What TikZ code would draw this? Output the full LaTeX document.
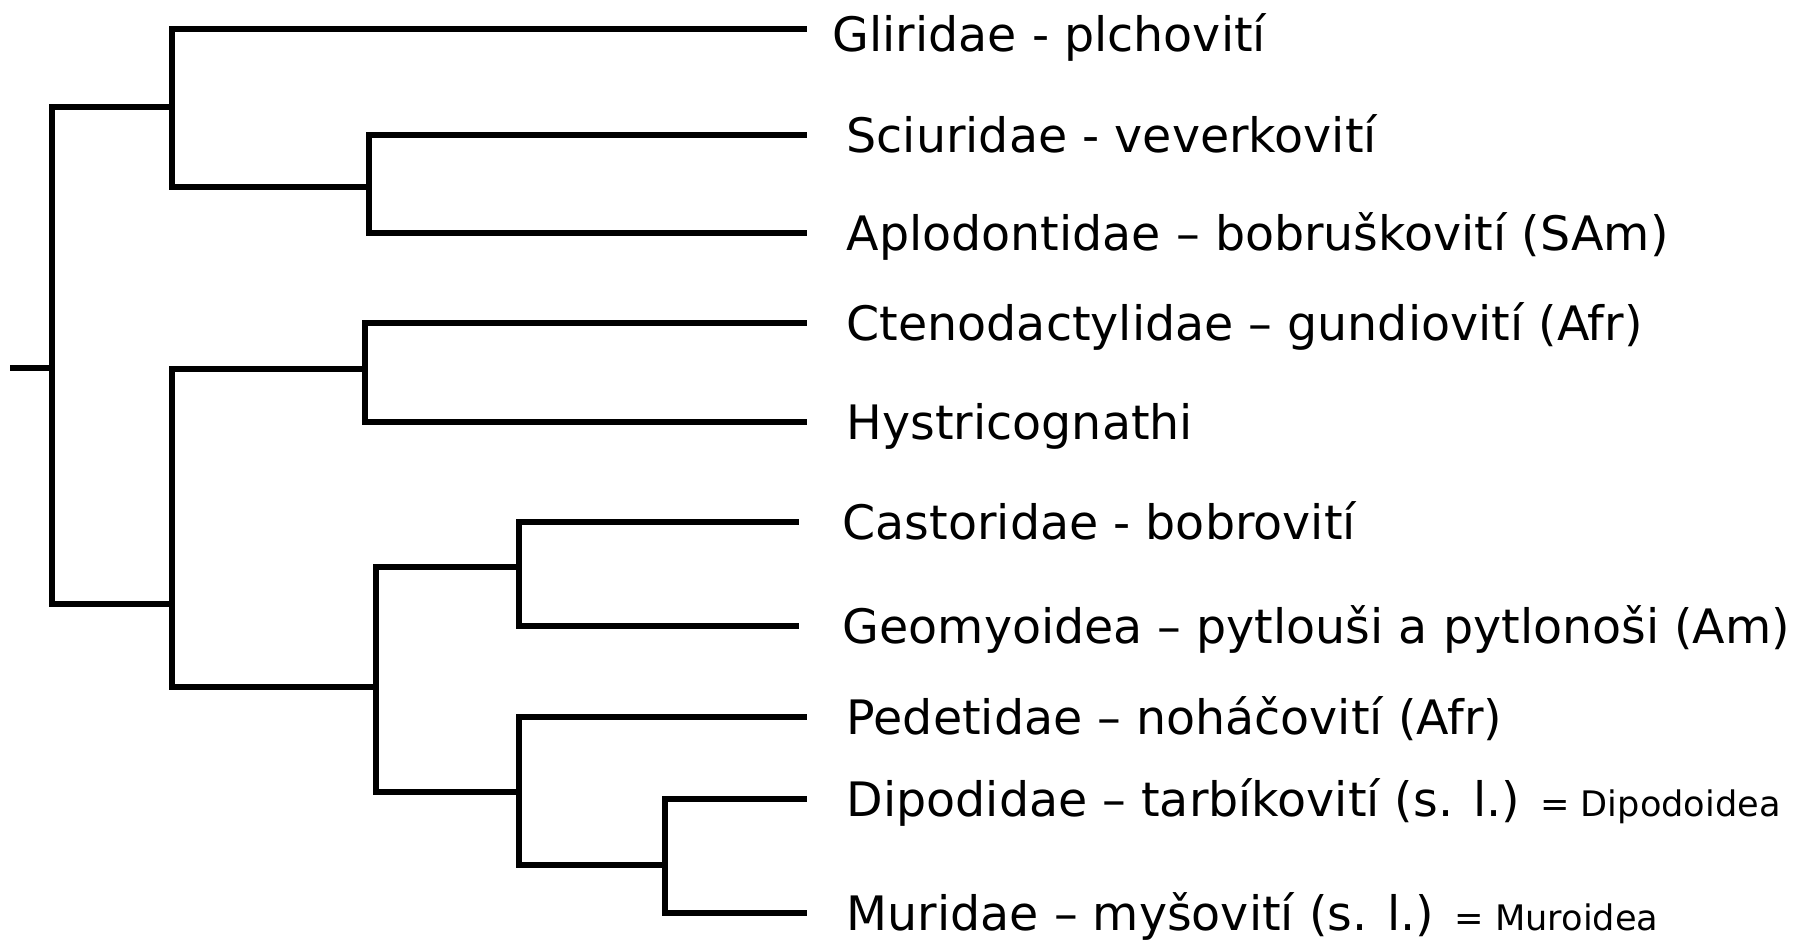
\documentclass[tikz,border=0pt]{standalone}
\usepackage{fontspec}
\setmainfont{DejaVu Sans}
\usepackage{tikz}
\usetikzlibrary{positioning}
\tikzset{
  branch/.style={
    line width=1.5pt,
    draw=black
  },
  taxon/.style={
    anchor=west,
    inner sep=0pt,
    text height=9.8pt,
    text depth=0pt,
    font=\fontsize{13.5}{16}\selectfont
  }
}
\newcommand{\synonym}[1]{{\fontsize{10}{12}\selectfont #1}}

\begin{document}
\begin{tikzpicture}[x=0.01cm, y=-0.01cm, node distance=0.39cm]
\useasboundingbox (0,0) rectangle (1799,943);
% tips
\coordinate (gli) at (807,29);
\coordinate (sci) at (807,135);
\coordinate (apl) at (807,233);
\coordinate (cte) at (807,323);
\coordinate (hys) at (807,422);
\coordinate (cas) at (799,522);
\coordinate (geo) at (799,626);
\coordinate (ped) at (807,717);
\coordinate (dip) at (807,799);
\coordinate (mur) at (807,913);
% inner nodes
\coordinate (stub) at (10,368);
\coordinate (root) at (52,368);
\coordinate (glisci) at (172,107);
\coordinate (sciapl) at (369,187);
\coordinate (rest) at (172,604);
\coordinate (ctehys) at (365,369);
\coordinate (casmur) at (376,687);
\coordinate (casgeo) at (519,567);
\coordinate (pedmur) at (519,792);
\coordinate (dipmur) at (665,865);
% labels
\node[taxon, right=0.25cm of gli, yshift=-0.05cm] (gliL) {Gliridae - plchovití};
\node[taxon, right=of sci] (sciL) {Sciuridae - veverkovití};
\node[taxon, right=of apl] (aplL) {Aplodontidae – bobruškovití (SAm)};
\node[taxon, right=of cte] (cteL) {Ctenodactylidae – gundiovití (Afr)};
\node[taxon, right=of hys] (hysL) {Hystricognathi};
\node[taxon, right=0.43cm of cas] (casL) {Castoridae - bobrovití};
\node[taxon, right=0.43cm of geo] (geoL) {Geomyoidea – pytlouši a pytlonoši (Am)};
\node[taxon, right=of ped] (pedL) {Pedetidae – noháčovití (Afr)};
\node[taxon, right=of dip] (dipL) {Dipodidae – tarbíkovití (s. l.) \synonym{= Dipodoidea}};
\node[taxon, right=of mur] (murL) {Muridae – myšovití (s. l.) \synonym{= Muroidea}};
% tree
\draw[branch] (stub) -- (root);
\draw[branch] (root) |- (glisci);
\draw[branch] (root) |- (rest);
\draw[branch] (glisci) |- (gli);
\draw[branch] (glisci) |- (sciapl);
\draw[branch] (sciapl) |- (sci);
\draw[branch] (sciapl) |- (apl);
\draw[branch] (rest) |- (ctehys);
\draw[branch] (rest) |- (casmur);
\draw[branch] (ctehys) |- (cte);
\draw[branch] (ctehys) |- (hys);
\draw[branch] (casmur) |- (casgeo);
\draw[branch] (casmur) |- (pedmur);
\draw[branch] (casgeo) |- (cas);
\draw[branch] (casgeo) |- (geo);
\draw[branch] (pedmur) |- (ped);
\draw[branch] (pedmur) |- (dipmur);
\draw[branch] (dipmur) |- (dip);
\draw[branch] (dipmur) |- (mur);
\end{tikzpicture}
\end{document}
